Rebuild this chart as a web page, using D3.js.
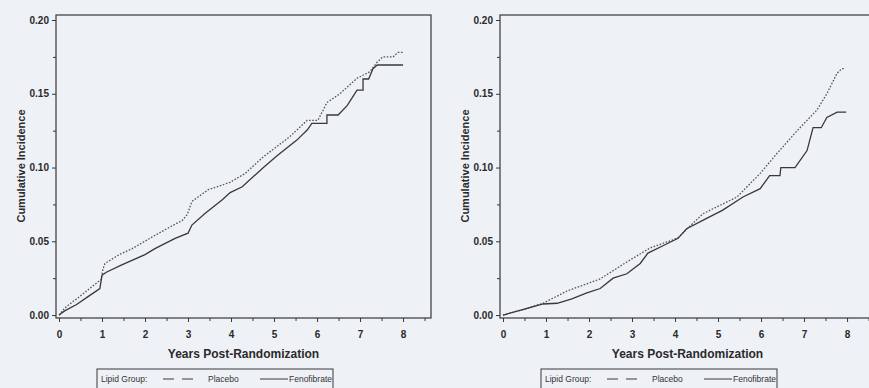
<!DOCTYPE html>
<html>
<head>
<meta charset="utf-8">
<script src="https://cdn.jsdelivr.net/npm/d3@7"></script>
<style>
  body { margin: 0; background: #eef1f6; }
  svg { display: block; font-family: "Liberation Sans", Arial, sans-serif; }
</style>
</head>
<body>
<svg width="869" height="388"></svg>
<script>
// tick values
var xTicks = [0, 1, 2, 3, 4, 5, 6, 7, 8];
var yTicks = [0, 0.05, 0.10, 0.15, 0.20];
var xTitle = "Years Post-Randomization";
var yTitle = "Cumulative Incidence";
var legendNames = ["Placebo", "Fenofibrate"];

// left panel: [years, cumulative incidence]
var placeboA = [[0,0],[0.14,0.005],[0.5,0.013],[0.84,0.021],[0.98,0.024],[1.02,0.031],[1.07,0.035],
  [1.4,0.041],[1.7,0.045],[2.23,0.054],[2.6,0.06],[2.86,0.064],[2.98,0.068],[3.09,0.077],[3.47,0.085],
  [3.98,0.09],[4.33,0.096],[4.74,0.107],[5.1,0.115],[5.37,0.121],[5.77,0.132],[6.02,0.132],[6.23,0.144],
  [6.53,0.150],[6.93,0.1605],[7.23,0.165],[7.4,0.1715],[7.53,0.175],[7.77,0.175],[7.88,0.178],[8.0,0.178]];
var fenoA = [[0,0],[0.14,0.003],[0.4,0.007],[0.7,0.013],[0.95,0.018],[1.0,0.027],[1.1,0.029],[1.46,0.034],
  [2,0.041],[2.23,0.045],[2.7,0.052],[3.0,0.0555],[3.09,0.061],[3.4,0.069],[3.79,0.078],[3.98,0.083],
  [4.26,0.087],[4.74,0.0997],[5.07,0.108],[5.53,0.1186],[5.77,0.1254],[5.88,0.13],[6.23,0.13],[6.23,0.1356],
  [6.49,0.1356],[6.7,0.142],[6.93,0.1525],[7.07,0.1525],[7.07,0.16],[7.2,0.16],[7.3,0.167],[7.4,0.1695],[8.0,0.1695]];

// right panel
var placeboB = [[0,0],[0.5,0.004],[0.93,0.008],[1.49,0.0163],[2.26,0.0245],[2.88,0.036],[3.42,0.0455],
  [4.05,0.052],[4.65,0.0687],[5.44,0.080],[5.98,0.096],[6.37,0.1095],[6.84,0.125],[7.3,0.139],
  [7.53,0.150],[7.77,0.164],[7.88,0.167],[7.95,0.167]];
var fenoB = [[0,0],[0.5,0.004],[0.93,0.0075],[1.26,0.008],[1.6,0.011],[1.95,0.015],[2.26,0.018],
  [2.56,0.025],[2.88,0.028],[3.19,0.035],[3.37,0.042],[3.72,0.047],[4.07,0.052],[4.27,0.0585],
  [4.7,0.065],[5.1,0.071],[5.58,0.080],[5.98,0.0857],[6.2,0.0945],[6.44,0.0945],[6.46,0.100],
  [6.79,0.100],[7.07,0.1115],[7.21,0.127],[7.4,0.127],[7.53,0.134],[7.77,0.1375],[7.98,0.1375]];

var ink = "#383838";
var svg = d3.select("svg");

function panel(offsetX, placebo, feno) {
  var g = svg.append("g").attr("transform", "translate(" + offsetX + ",0)");

  var x = d3.scaleLinear().domain([-0.07, 8.65]).range([56, 431]);
  var y = d3.scaleLinear().domain([-0.002, 0.2034]).range([318, 15]);

  // minor ticks
  var xMinor = d3.range(0.5, 8.6, 1);
  var yMinor = [0.025, 0.075, 0.125, 0.175];

  g.append("g")
      .attr("transform", "translate(0,318)")
      .call(d3.axisBottom(x).tickValues(xMinor).tickSize(3).tickFormat(""))
      .call(function(a) { a.select(".domain").remove(); });
  g.append("g")
      .attr("transform", "translate(56,0)")
      .call(d3.axisLeft(y).tickValues(yMinor).tickSize(3).tickFormat(""))
      .call(function(a) { a.select(".domain").remove(); });

  g.append("g")
      .attr("transform", "translate(0,318)")
      .call(d3.axisBottom(x).tickValues(xTicks).tickSize(4).tickPadding(9).tickFormat(d3.format("d")));
  g.append("g")
      .attr("transform", "translate(56,0)")
      .call(d3.axisLeft(y).tickValues(yTicks).tickSize(4).tickPadding(3).tickFormat(d3.format(".2f")));

  g.selectAll(".domain").remove();
  g.selectAll(".tick line").attr("stroke", ink);
  g.selectAll(".tick text")
      .attr("fill", "#2a2a2a")
      .style("font-size", "10px")
      .style("font-weight", "bold");

  // frame
  g.append("rect")
      .attr("x", 56).attr("y", 15)
      .attr("width", 375).attr("height", 303)
      .attr("fill", "none")
      .attr("stroke", ink)
      .attr("stroke-width", 1.2);

  var line = d3.line()
      .x(function(d) { return x(d[0]); })
      .y(function(d) { return y(d[1]); });

  g.append("path")
      .attr("fill", "none")
      .attr("stroke", "#555")
      .attr("stroke-width", 1.3)
      .attr("stroke-dasharray", "1.6,1.6")
      .attr("d", line(placebo));

  g.append("path")
      .attr("fill", "none")
      .attr("stroke", ink)
      .attr("stroke-width", 1.3)
      .attr("d", line(feno));

  // titles
  g.append("text")
      .attr("x", 243.5).attr("y", 358)
      .attr("text-anchor", "middle")
      .attr("fill", "#2a2a2a")
      .style("font-size", "12px")
      .style("font-weight", "bold")
      .text(xTitle);

  g.append("text")
      .attr("transform", "translate(25,166) rotate(-90)")
      .attr("text-anchor", "middle")
      .attr("fill", "#2a2a2a")
      .style("font-size", "11px")
      .style("font-weight", "bold")
      .text(yTitle);

  // legend
  var lg = g.append("g").attr("transform", "translate(97,369)");
  lg.append("rect")
      .attr("width", 236).attr("height", 24)
      .attr("fill", "none")
      .attr("stroke", ink)
      .attr("stroke-width", 1);
  lg.append("text").attr("x", 4).attr("y", 13)
      .attr("fill", "#333").style("font-size", "8.5px")
      .text("Lipid Group:");
  lg.append("line")
      .attr("x1", 66).attr("x2", 96).attr("y1", 10).attr("y2", 10)
      .attr("stroke", ink).attr("stroke-dasharray", "11,8");
  lg.append("text").attr("x", 111).attr("y", 13)
      .attr("fill", "#333").style("font-size", "8.5px")
      .text(legendNames[0]);
  lg.append("line")
      .attr("x1", 163).attr("x2", 191).attr("y1", 10).attr("y2", 10)
      .attr("stroke", ink);
  lg.append("text").attr("x", 192).attr("y", 13)
      .attr("fill", "#333").style("font-size", "8.5px")
      .text(legendNames[1]);
}

panel(0, placeboA, fenoA);
panel(444, placeboB, fenoB);
</script>
</body>
</html>
